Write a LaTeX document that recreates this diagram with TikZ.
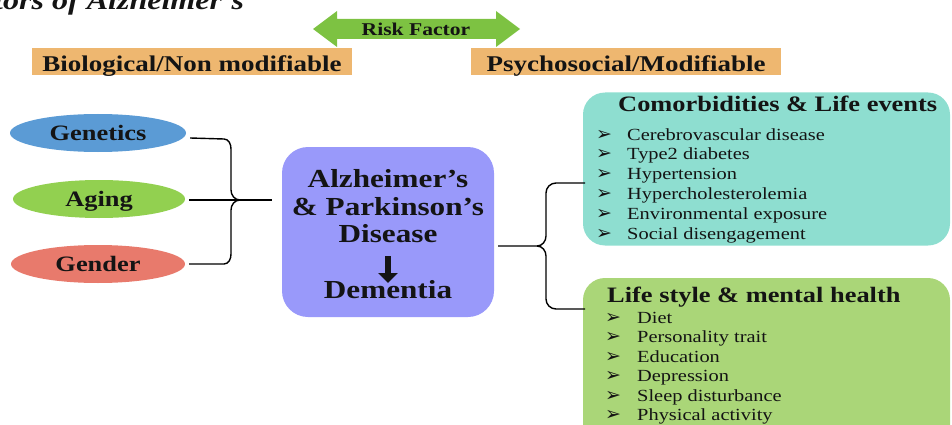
\documentclass[tikz,border=0pt]{standalone}
\usepackage{fontspec}
\setmainfont[FakeStretch=1.2]{Liberation Serif}
\newfontfamily\symfont{DejaVu Sans}
\usetikzlibrary{shapes.geometric,arrows.meta}
\definecolor{orng}{RGB}{238,183,112}
\definecolor{arrgreen}{RGB}{125,194,66}
\definecolor{gblue}{RGB}{91,155,213}
\definecolor{ggreen}{RGB}{146,208,80}
\definecolor{gred}{RGB}{232,122,108}
\definecolor{purp}{RGB}{153,153,250}
\definecolor{teal1}{RGB}{142,222,208}
\definecolor{lgreen}{RGB}{170,214,120}
\definecolor{ink}{RGB}{20,20,20}
\tikzset{
  hdr/.style={fill=orng, minimum height=27pt, inner sep=0pt},
  hdrtxt/.style={font=\bfseries\fontsize{22.5}{26}\selectfont, anchor=base, inner sep=0pt},
  ell/.style={ellipse, minimum width=176pt, minimum height=38pt, inner sep=0pt},
  elltxt/.style={font=\bfseries\fontsize{22}{26}\selectfont, anchor=base, inner sep=0pt},
  brace/.style={line width=1.4pt, black},
  ctext/.style={font=\bfseries\fontsize{26}{30}\selectfont, anchor=base, inner sep=0pt},
  ttl/.style={font=\bfseries\fontsize{22}{26}\selectfont, anchor=base west, inner sep=0pt},
  itm/.style={font=\fontsize{17}{20}\selectfont, anchor=base west, inner sep=0pt},
  bul/.style={font=\symfont\fontsize{19}{22}\selectfont, anchor=base west, inner sep=0pt}
}
\begin{document}
\begin{tikzpicture}[x=1pt,y=-1pt, every node/.style={text=ink}]
\useasboundingbox (0,0) rectangle (952,425);
\begin{scope}
\clip (0,0) rectangle (952,425);
% title (clipped at the top, as in the reference)
\node[anchor=base west, inner sep=0pt, font=\bfseries\itshape\fontsize{26.7}{30}\selectfont] (title) at (-6,10) {tors of Alzheimer's};
% risk factor arrow
\fill[arrgreen] (313,29) -- (337,11) -- (337,19) -- (496,19) -- (496,11) -- (520,29) -- (496,47) -- (496,39) -- (337,39) -- (337,47) -- cycle;
\node[font=\bfseries\fontsize{18}{21}\selectfont, anchor=base, inner sep=0pt] (rf) at (416,36) {Risk Factor};
% headers
\node[hdr, minimum width=320pt] (bio) at (192,62) {};
\node[hdrtxt] (biot) at (192,72) {Biological/Non modifiable};
\node[hdr, minimum width=310pt] (psy) at (626,62) {};
\node[hdrtxt] (psyt) at (626,72) {Psychosocial/Modifiable};
% ellipses
\node[ell, fill=gblue] (gen) at (98,133) {};
\node[elltxt] (gent) at (98,140) {Genetics};
\node[ell, fill=ggreen, minimum width=172pt] (age) at (99,199) {};
\node[elltxt] (aget) at (99,206) {Aging};
\node[ell, fill=gred, minimum width=174pt] (gend) at (98,264) {};
\node[elltxt] (gendt) at (98,271) {Gender};
% central box
\node[fill=purp, rounded corners=26pt, minimum width=212pt, minimum height=170pt] (ad) at (388,232) {};
\node[ctext] (l1) at (388,187) {Alzheimer’s};
\node[ctext] (l2) at (388,215) {\& Parkinson’s};
\node[ctext] (l3) at (388,242) {Disease};
\coordinate (ar1) at (388,256);
\coordinate (ar2) at (388,283);
\draw[line width=5.5pt, ink, -{Triangle[width=19pt,length=10pt]}] (ar1) -- (ar2);
\node[ctext] (l4) at (388,298) {Dementia};
% left brace
\coordinate (lb1) at (224,139);
\coordinate (lb3) at (224,264);
\coordinate (lt) at (272,200);
\draw[brace] (gen.east) ++(4,5) -- (lb1) to[out=0,in=90] (231,149) -- (231,190) to[out=-90,in=180] (240,200);
\draw[brace] (gend.east) ++(4,0) -- (lb3) to[out=0,in=-90] (231,254) -- (231,210) to[out=90,in=180] (240,200);
\draw[brace] (age.east) ++(4,1) -- (lt);
% right boxes
\node[fill=teal1, rounded corners=22pt, minimum width=367pt, minimum height=153pt] (comb) at (766.5,169) {};
\node[fill=lgreen, rounded corners=22pt, minimum width=367pt, minimum height=170pt] (life) at (766.5,363) {};
% right brace
\coordinate (rb0) at (498,246);
\coordinate (rb1) at (585,183);
\coordinate (rb2) at (585,309);
\draw[brace] (rb0) -- (537,246) to[out=0,in=-90] (546,236) -- (546,193) to[out=90,in=180] (556,183) -- (rb1);
\draw[brace] (537,246) to[out=0,in=90] (546,256) -- (546,299) to[out=-90,in=180] (556,309) -- (rb2);
% comorbidities text
\node[ttl] (ct) at (618,112) {Comorbidities \& Life events};
\foreach \t [count=\i] in {Cerebrovascular disease, Type2 diabetes, Hypertension, Hypercholesterolemia, Environmental exposure, Social disengagement}{
  \node[bul] (cb\i) at (596,{120.2+19.8*\i}) {➢};
  \node[itm] (ci\i) at (627,{120.2+19.8*\i}) {\t};
}
% life style text
\node[ttl] (lt2) at (607,302) {Life style \& mental health};
\foreach \t [count=\i] in {Diet, Personality trait, Education, Depression, Sleep disturbance, Physical activity}{
  \node[bul] (lb\i) at (605,{303.5+19.5*\i}) {➢};
  \node[itm] (li\i) at (637,{303.5+19.5*\i}) {\t};
}
\end{scope}
\end{tikzpicture}
\end{document}
